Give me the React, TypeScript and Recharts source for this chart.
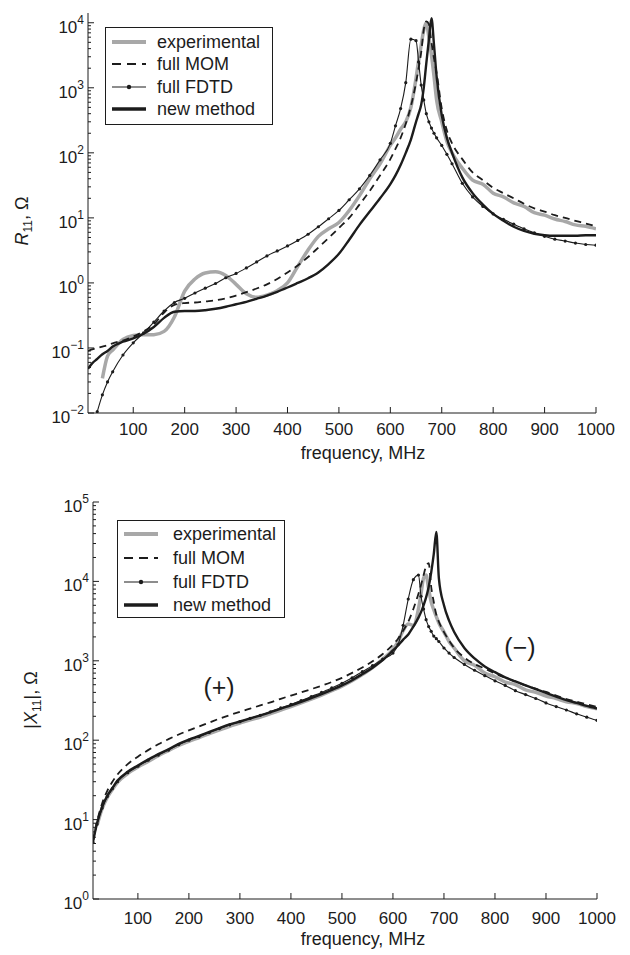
import React from "react";
import { LineChart, Line, XAxis, YAxis, Legend, ReferenceDot } from "recharts";

const FONT = "'Liberation Sans', Arial, Helvetica, sans-serif";
const INK = "#1c1c1c";
const GRAY = "#a8a8a8";

// frequency grid, MHz
const freqs = [
  12, 20, 30, 40, 50, 60, 80,
  100, 120, 140, 160, 180, 200, 220, 240, 260, 280, 300, 320, 340, 360, 380, 400,
  420, 440, 460, 480, 500, 520, 540, 560, 580, 600,
  610, 620, 630, 640, 650,
  655, 660, 665, 670, 675, 680, 685, 690,
  700, 710, 720,
  740, 760, 780, 800, 820, 840, 860, 880, 900, 920, 940, 960, 980, 1000,
];

// R11, ohm
const expR = [
  null, null, null, 0.034, 0.075, 0.093, 0.135,
  0.155, 0.16, 0.16, 0.18, 0.3, 0.75, 1.15, 1.42, 1.48, 1.3, 0.95, 0.68, 0.6, 0.65, 0.76, 1.0,
  1.8, 3.2, 5.2, 6.8, 8.5, 13, 22, 40, 68, 130,
  170, 230, 300, 500, 1400,
  2600, 4500, 7800, 10000, 6000, 3200, 1500, 650,
  300, 150, 100,
  58, 38, 33, 24, 21, 17, 15, 12, 11, 9.6, 8.8, 7.8, 7.4, 6.8,
];
const momR = [
  0.09, 0.095, 0.1, 0.105, 0.11, 0.118, 0.13,
  0.15, 0.18, 0.23, 0.35, 0.46, 0.49, 0.5, 0.52, 0.54, 0.58, 0.64, 0.72, 0.82, 0.95, 1.15, 1.45,
  1.85, 2.5, 3.5, 4.9, 7.0, 10, 16, 26, 45, 80,
  115, 170, 280, 520, 1200,
  2000, 3500, 7800, 10500, 9500, 5000, 2800, 1700,
  480, 220, 140,
  80, 50, 38, 29, 24, 20, 16.5, 14, 12.5, 11, 10, 9, 8.2, 7.4,
];
const fdtdR = [
  null, null, 0.0105, 0.019, 0.03, 0.043, 0.078,
  0.12, 0.17, 0.25, 0.37, 0.5, 0.58, 0.7, 0.83, 0.98, 1.2, 1.4, 1.7, 2.1, 2.6, 3.1, 3.7,
  4.5, 5.6, 7.3, 9.7, 13, 19, 28, 45, 78, 140,
  260, 480, 1200, 5600, 5300,
  2500, 1100, 650, 400, 300, 240, 200, 170,
  130, 95, 68,
  34, 21, 15, 11.5, 9.5, 8, 6.8, 5.9, 5.2, 4.7, 4.4, 4.1, 3.9, 3.8,
];
const newR = [
  0.048, 0.058, 0.068, 0.08, 0.09, 0.105, 0.125,
  0.14, 0.165, 0.21, 0.29, 0.36, 0.37, 0.37, 0.38, 0.4, 0.43, 0.47, 0.51, 0.57, 0.64, 0.73, 0.85,
  1.0, 1.18, 1.45, 1.95, 2.8, 4.6, 7.8, 12.5, 20, 33,
  45, 65, 100, 160, 300,
  400, 550, 1000, 2400, 5500, 11800, 4500, 1500,
  380, 170, 100,
  42, 24, 16, 11.5, 9, 7.3, 6.3, 5.7, 5.4, 5.3, 5.3, 5.3, 5.4, 5.4,
];

// |X11|, ohm
const expX = [
  null, 8.5, 13.8, 19, 24, 29.5, 38,
  46, 54, 64, 74, 86, 97, 108, 121, 135, 150, 164, 180, 196, 216, 240, 265,
  295, 330, 370, 420, 480, 560, 670, 820, 1050, 1400,
  1750, 2400, 2900, 2800, 4500,
  7000, 11000, 12000, 8000, 5500, 4400, 3600, 3000,
  2300, 1750, 1450,
  1000, 880, 700, 630, 540, 500, 430, 400, 360, 335, 305, 290, 265, 248,
];
const momX = [
  5.3, 9.5, 16, 23, 30, 37, 50,
  62, 75, 89, 103, 118, 133, 149, 167, 187, 207, 228, 250, 274, 300, 332, 365,
  400, 440, 485, 540, 610, 705, 825, 985, 1220, 1600,
  1900, 2400, 3100, 4500, 7000,
  9000, 12000, 15500, 17000, 8500, 5500, 3800, 3100,
  2300, 1800, 1450,
  1100, 910, 800, 690, 610, 550, 490, 445, 405, 365, 330, 305, 282, 262,
];
const fdtdX = [
  5.2, 8.8, 14, 19.5, 24.5, 30, 39,
  47, 56, 65, 75, 88, 100, 111, 125, 140, 156, 171, 188, 206, 228, 255, 282,
  315, 355, 400, 455, 520, 610, 730, 870, 1050, 1250,
  1600, 2800, 6000, 10500, 12000,
  6500, 4500, 3300, 2700, 2350, 2050, 1900, 1750,
  1450, 1250, 1100,
  900, 760, 650, 560, 490, 420, 375, 335, 295, 265, 240, 215, 195, 178,
];
const newX = [
  5.3, 9, 14.5, 20, 25, 31, 40,
  48, 57, 67, 77, 90, 102, 113, 127, 142, 158, 172, 188, 205, 225, 250, 275,
  305, 340, 380, 430, 490, 570, 680, 820, 1020, 1350,
  1560, 1850, 2150, 2700, 3500,
  4100, 5000, 6300, 8500, 13000, 22000, 42000, 11000,
  5000, 3200, 2300,
  1450, 1070, 850, 720, 620, 550, 490, 440, 395, 355, 320, 295, 270, 250,
];

const freqTicks = [100, 200, 300, 400, 500, 600, 700, 800, 900, 1000];
const decadesR = [0.01, 0.1, 1, 10, 100, 1000, 10000];
const decadesX = [1, 10, 100, 1000, 10000, 100000];
const minorSteps = [2, 3, 4, 5, 6, 7, 8, 9];

const seriesKeys = ["exp", "mom", "fdtd", "nm"];
const names = {
  exp: "experimental",
  mom: "full MOM",
  fdtd: "full FDTD",
  nm: "new method",
};

const buildRows = (e: any[], m: any[], f: any[], n: any[]) =>
  freqs.map((fr, i) => ({ f: fr, exp: e[i], mom: m[i], fdtd: f[i], nm: n[i] }));

const withMinor = (decs: number[], max: number) =>
  decs.flatMap((d) => [d, ...minorSteps.map((s) => s * d)]).filter((v) => v <= max * 1.0001);

function YTick(props: any) {
  const { x, y, payload } = props;
  const lg = Math.log10(payload.value);
  const e = Math.round(lg);
  const major = Math.abs(lg - e) < 1e-6;
  return (
    <g>
      <line x1={x} x2={x + (major ? 6 : 3)} y1={y} y2={y} stroke={INK} strokeWidth={1} />
      {major && (
        <text x={x - 4} y={y + 10} textAnchor="end" fontSize={17} fill={INK} fontFamily={FONT}>
          10
          <tspan dy={-9} fontSize={12}>
            {e < 0 ? `\u2212${-e}` : `${e}`}
          </tspan>
        </text>
      )}
    </g>
  );
}

function XTick(props: any) {
  const { x, y, payload, dy } = props;
  return (
    <g>
      <line x1={x} x2={x} y1={y} y2={y - 6} stroke={INK} strokeWidth={1} />
      <text x={x} y={y + dy} textAnchor="middle" fontSize={17} fill={INK} fontFamily={FONT}>
        {payload.value}
      </text>
    </g>
  );
}

function LegendBox({ payload, rows, textX }: any) {
  const ordered = seriesKeys
    .map((k) => (payload || []).find((p: any) => p.dataKey === k))
    .filter(Boolean);
  return (
    <svg width={168} height={98} style={{ display: "block" }}>
      <rect x={0.5} y={0.5} width={167} height={97} fill="#fff" stroke={INK} strokeWidth={1} />
      {ordered.map((entry: any, i: number) => {
        const k = entry.dataKey;
        const y = rows[i];
        return (
          <g key={k}>
            {k === "exp" && <line x1={7} x2={41} y1={y} y2={y} stroke={GRAY} strokeWidth={4} />}
            {k === "mom" && (
              <line x1={7} x2={41} y1={y} y2={y} stroke={INK} strokeWidth={2} strokeDasharray="9 6" />
            )}
            {k === "fdtd" && (
              <g>
                <line x1={7} x2={41} y1={y} y2={y} stroke={INK} strokeWidth={1.2} />
                <circle cx={24} cy={y} r={2.2} fill={INK} />
              </g>
            )}
            {k === "nm" && <line x1={7} x2={41} y1={y} y2={y} stroke={INK} strokeWidth={3.5} />}
            <text x={textX} y={y + 6} fontSize={18} fill={INK} fontFamily={FONT}>
              {entry.value}
            </text>
          </g>
        );
      })}
    </svg>
  );
}

function AxisTitleR() {
  return (
    <text transform="translate(28,221) rotate(-90)" textAnchor="middle" fontSize={18} fill={INK} fontFamily={FONT}>
      <tspan fontStyle="italic">R</tspan>
      <tspan fontSize={12} dy={4}>11</tspan>
      <tspan dy={-4}>, Ω</tspan>
    </text>
  );
}

function AxisTitleX() {
  return (
    <text transform="translate(37,230) rotate(-90)" textAnchor="middle" fontSize={18} fill={INK} fontFamily={FONT}>
      <tspan>|</tspan>
      <tspan fontStyle="italic">X</tspan>
      <tspan fontSize={12} dy={4}>11</tspan>
      <tspan dy={-4}>|, Ω</tspan>
    </text>
  );
}

function FreqTitle({ baseline }: any) {
  return (
    <text x={363} y={baseline} textAnchor="middle" fontSize={18} fill={INK} fontFamily={FONT}>
      frequency, MHz
    </text>
  );
}

function ImpedancePanel({
  rows,
  domain,
  decades,
  margin,
  height,
  tickDy,
  titleY,
  yTitle,
  legendPos,
  legendRows,
  legendTextX,
  children,
}: any) {
  const ticks = withMinor(decades, domain[1]);
  return (
    <LineChart width={630} height={height} data={rows} margin={margin}>
      <XAxis
        dataKey="f"
        type="number"
        domain={[12, 1000]}
        ticks={freqTicks}
        interval={0}
        allowDataOverflow
        height={45}
        tickSize={0}
        tickMargin={0}
        tickLine={false}
        axisLine={{ stroke: INK, strokeWidth: 1 }}
        tick={(p: any) => <XTick {...p} dy={tickDy} />}
        label={<FreqTitle baseline={titleY} />}
      />
      <YAxis
        scale="log"
        type="number"
        domain={domain}
        ticks={ticks}
        interval={0}
        allowDataOverflow
        width={60}
        tickSize={0}
        tickMargin={0}
        tickLine={false}
        axisLine={{ stroke: INK, strokeWidth: 1 }}
        tick={(p: any) => <YTick {...p} />}
        label={yTitle}
      />
      <Legend
        layout="vertical"
        align="center"
        verticalAlign="middle"
        wrapperStyle={{ left: legendPos[0], top: legendPos[1], width: 168, height: 98 }}
        content={(p: any) => <LegendBox payload={p.payload} rows={legendRows} textX={legendTextX} />}
      />
      <Line
        dataKey="exp"
        name={names.exp}
        type="monotone"
        stroke={GRAY}
        strokeWidth={3.5}
        dot={false}
        isAnimationActive={false}
      />
      <Line
        dataKey="mom"
        name={names.mom}
        type="monotone"
        stroke={INK}
        strokeWidth={1.8}
        strokeDasharray="7 5"
        dot={false}
        isAnimationActive={false}
      />
      <Line
        dataKey="fdtd"
        name={names.fdtd}
        type="monotone"
        stroke={INK}
        strokeWidth={1.1}
        dot={{ r: 1.6, fill: INK, stroke: "none" }}
        isAnimationActive={false}
      />
      <Line
        dataKey="nm"
        name={names.nm}
        type="monotone"
        stroke={INK}
        strokeWidth={2.4}
        dot={false}
        isAnimationActive={false}
      />
      {children}
    </LineChart>
  );
}

export default function App() {
  const rowsR = buildRows(expR, momR, fdtdR, newR);
  const rowsX = buildRows(expX, momX, fdtdX, newX);
  return (
    <div
      style={{
        position: "absolute",
        left: 0,
        top: 0,
        width: 630,
        height: 955,
        background: "#fff",
        fontFamily: FONT,
      }}
    >
      <div style={{ position: "absolute", left: 0, top: 0 }}>
        <ImpedancePanel
          rows={rowsR}
          domain={[0.01, 14125]}
          decades={decadesR}
          height={470}
          margin={{ top: 13, right: 34, bottom: 12, left: 28 }}
          tickDy={22}
          titleY={459}
          yTitle={<AxisTitleR />}
          legendPos={[105, 27]}
          legendRows={[15, 37, 60, 82]}
          legendTextX={52}
        />
      </div>
      <div style={{ position: "absolute", left: 0, top: 470 }}>
        <ImpedancePanel
          rows={rowsX}
          domain={[1, 100000]}
          decades={decadesX}
          height={485}
          margin={{ top: 32, right: 33, bottom: 11, left: 33 }}
          tickDy={25}
          titleY={475}
          yTitle={<AxisTitleX />}
          legendPos={[117, 50]}
          legendRows={[14, 38, 62, 85]}
          legendTextX={56}
        >
          <ReferenceDot
            x={259}
            y={470}
            r={0}
            ifOverflow="visible"
            label={{ value: "(+)", position: "center", fontSize: 25, fill: INK, fontFamily: FONT }}
          />
          <ReferenceDot
            x={849}
            y={1490}
            r={0}
            ifOverflow="visible"
            label={{ value: "(\u2212)", position: "center", fontSize: 25, fill: INK, fontFamily: FONT }}
          />
        </ImpedancePanel>
      </div>
    </div>
  );
}
